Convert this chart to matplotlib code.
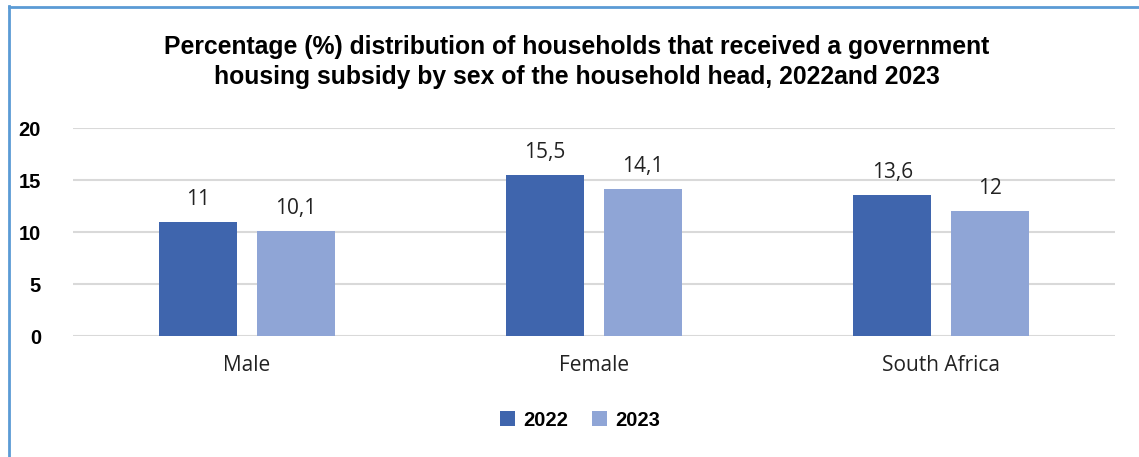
import numpy as np
import matplotlib.pyplot as plt

categories = ['Male', 'Female', 'South Africa']
years = ['2022', '2023']
values_2022 = [11, 15.5, 13.6]
values_2023 = [10.1, 14.1, 12]
label_2022 = ['11', '15,5', '13,6']
label_2023 = ['10,1', '14,1', '12']

dark_blue = '#3F65AD'
light_blue = '#8FA5D6'
frame_blue = '#5B9BD5'

plt.rcParams['font.family'] = ['Liberation Sans', 'DejaVu Sans']

fig = plt.figure(figsize=(11.39, 4.57), dpi=100)
ax = fig.add_axes([73/1139, 1 - 336/457, 1042/1139, 208/457])

x = np.arange(len(categories))
width = 0.225
off = 0.141
b1 = ax.bar(x - off, values_2022, width, color=dark_blue, label=years[0], zorder=3)
b2 = ax.bar(x + off, values_2023, width, color=light_blue, label=years[1], zorder=3)

for bars, labels in ((b1, label_2022), (b2, label_2023)):
    for rect, txt in zip(bars, labels):
        ax.text(rect.get_x() + rect.get_width() / 2, rect.get_height() + 1.15, txt,
                ha='center', va='bottom', fontsize=15, color='#222222',
                family=['Open Sans', 'DejaVu Sans'])

ax.set_xlim(-0.5, 2.5)
ax.set_ylim(0, 20)
ax.set_yticks([0, 5, 10, 15, 20])
ax.yaxis.grid(True, color='#d9d9d9', linewidth=1.5, zorder=0)
ax.set_axisbelow(True)
for s in ax.spines.values():
    s.set_visible(False)
ax.tick_params(axis='both', length=0)
ax.tick_params(axis='y', pad=23)
ax.set_yticklabels(['0', '5', '10', '15', '20'], fontsize=14.5, fontweight='bold')
ax.set_xticks(x)
ax.set_xticklabels(categories, fontsize=15, color='#222222', family=['Open Sans', 'DejaVu Sans'])
ax.tick_params(axis='x', pad=14)

fig.text(577/1139, 1 - 62/457,
         'Percentage (%) distribution of households that received a government\n'
         'housing subsidy by sex of the household head, 2022and 2023',
         ha='center', va='center', fontsize=17.8, fontweight='bold', linespacing=1.35)

fig.legend(handles=[b1, b2], loc='center', bbox_to_anchor=(580/1139, 1 - 420/457),
           ncol=2, frameon=False, prop={'size': 14.5, 'weight': 'bold'},
           handlelength=0.75, handleheight=0.75, handletextpad=0.4, columnspacing=1.2)

# light blue frame along the left and top edges
fig.add_artist(plt.Line2D([8.5/1139, 8.5/1139], [0, 1 - 6/457], color=frame_blue, linewidth=2))
fig.add_artist(plt.Line2D([8.5/1139, 1], [1 - 6.5/457, 1 - 6.5/457], color=frame_blue, linewidth=2))

fig.savefig('out.png', dpi=100)
